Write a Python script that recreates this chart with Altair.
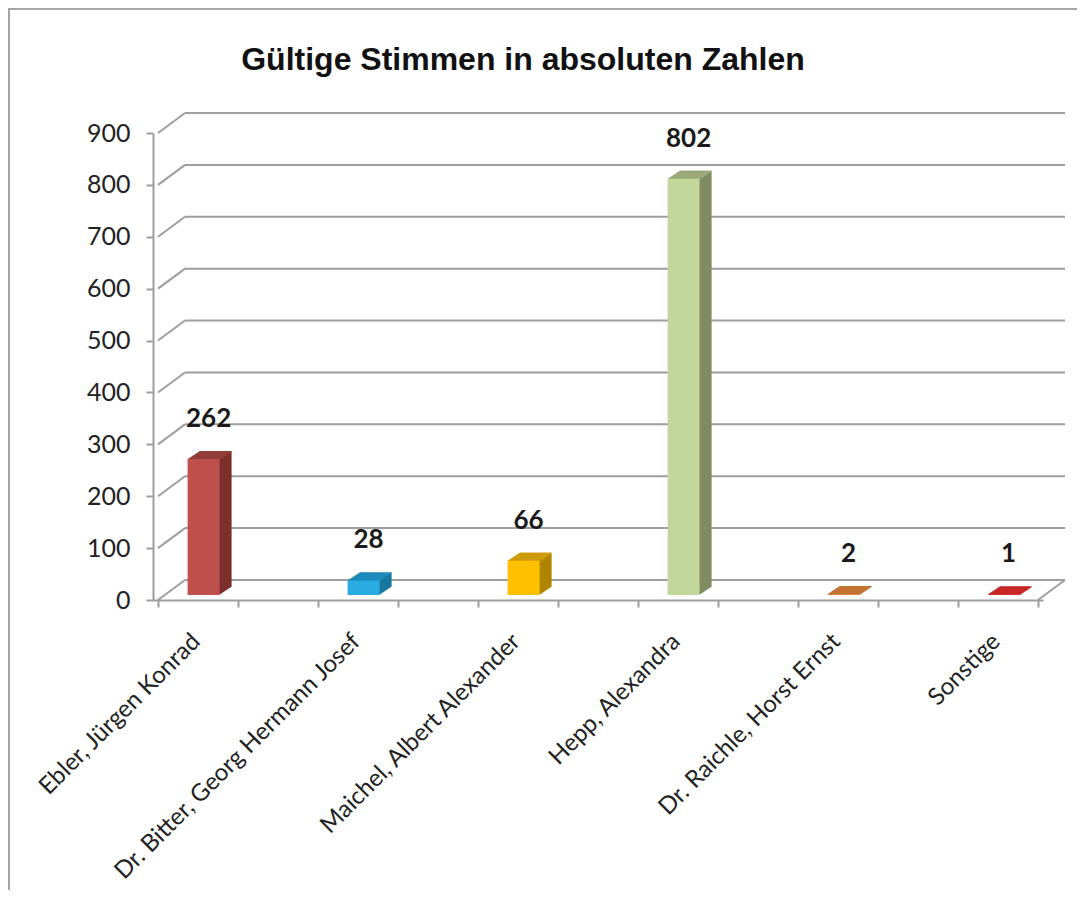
import altair as alt
import pandas as pd

# ---- data ----
names = [
    "Ebler, Jürgen Konrad",
    "Dr. Bitter, Georg Hermann Josef",
    "Maichel, Albert Alexander",
    "Hepp, Alexandra",
    "Dr. Raichle, Horst Ernst",
    "Sonstige",
]
votes = [262, 28, 66, 802, 2, 1]
y_ticks = [0, 100, 200, 300, 400, 500, 600, 700, 800, 900]
title_text = "Gültige Stimmen in absoluten Zahlen"

# ---- styles ----
FRONT = ["#C0504D", "#29ABE2", "#FFC000", "#C3D69B", "#D8843A", "#D42626"]
TOP = ["#953E3B", "#1E8CC0", "#D09C0A", "#9DAD7C", "#C47532", "#C8201F"]
SIDE = ["#7C2F2D", "#17789F", "#B08400", "#7E8B63", "#9E5C26", "#9A1719"]
GRAY = "#9E9E9E"
FONT = "Lato"

df = pd.DataFrame({"name": names, "votes": votes, "idx": list(range(len(names)))})
grid_df = pd.DataFrame({"v": y_ticks})
one = pd.DataFrame({"a": [0]})

xs = alt.Scale(domain=[0, 11], nice=False, zero=False)
ys = alt.Scale(domain=[0, 900], nice=False)
xa = alt.Axis(values=list(range(12)), labels=False, title=None, tickSize=7,
              tickWidth=2, tickColor=GRAY, domainColor=GRAY, domainWidth=2, grid=False)
ya = alt.Axis(values=y_ticks, title=None, tickSize=7, tickWidth=2, tickColor=GRAY,
              domainColor=GRAY, domainWidth=2, grid=False, labelFont=FONT,
              labelFontSize=25, labelColor="#222222", labelPadding=16)

X = alt.X("slot:Q", scale=xs, axis=xa)
Y = alt.Y("votes:Q", scale=ys, axis=ya)

base = alt.Chart(df).transform_calculate(slot="2*datum.idx + 0.57")

DX, DY = 27, -20      # depth of back wall
BW = 32               # bar width
BDX, BDY = 12, 8      # bar depth
N = 12
SY = BDY / N
AX = BDX / N
LIFT = -5

frame = alt.Chart(one).mark_rect(filled=False, stroke="#A6A6A6", strokeWidth=2).encode(
    x=alt.value(-144), x2=alt.value(1300), y=alt.value(-124), y2=alt.value(1100)
)

title = alt.Chart(one).mark_text(
    text=title_text, font="Liberation Sans", fontSize=32, fontWeight="bold",
    color="#111111", align="center", baseline="middle",
).encode(x=alt.value(370), y=alt.value(-73))

grid_back = alt.Chart(grid_df).mark_rule(
    color=GRAY, strokeWidth=2, xOffset=DX, x2Offset=DX, yOffset=DY
).encode(
    x=alt.XDatum(0, scale=xs, axis=xa), x2=alt.X2Datum(11),
    y=alt.Y("v:Q", scale=ys, axis=ya),
)

grid_side = alt.Chart(grid_df).mark_rule(
    color=GRAY, strokeWidth=2, x2Offset=DX, y2Offset=DY
).encode(
    x=alt.XDatum(0, scale=xs, axis=xa), x2=alt.X2Datum(0),
    y=alt.Y("v:Q", scale=ys, axis=ya), y2=alt.Y2("v:Q"),
)

floor_right = alt.Chart(one).mark_rule(
    color=GRAY, strokeWidth=2, x2Offset=DX, y2Offset=DY
).encode(
    x=alt.XDatum(11, scale=xs, axis=xa), x2=alt.X2Datum(11),
    y=alt.YDatum(0, scale=ys, axis=ya), y2=alt.Y2Datum(0),
)


def col(rng):
    return alt.Color("name:N", scale=alt.Scale(domain=names, range=rng), legend=None)


layers = [frame, title, grid_back, grid_side, floor_right]

# side (shifted copies of the bar body)
for k in range(1, N + 1):
    off = LIFT - k * SY
    layers.append(
        base.mark_bar(width=BW, xOffset=k * AX, yOffset=off, y2Offset=off, strokeWidth=0)
        .encode(x=X, y=Y, y2=alt.Y2Datum(0), color=col(SIDE))
    )

# top face (thin shifted strips at the bar top)
for k in range(1, N + 1):
    y_top = LIFT - k * SY
    y_bot = LIFT - (k - 1) * SY + 0.35
    layers.append(
        base.mark_bar(width=BW, xOffset=k * AX, yOffset=y_top, y2Offset=y_bot, strokeWidth=0)
        .encode(x=X, y=Y, y2=alt.Y2("votes:Q"), color=col(TOP))
    )

# front face
layers.append(
    base.mark_bar(width=BW, yOffset=LIFT, y2Offset=LIFT, strokeWidth=0)
    .encode(x=X, y=Y, y2=alt.Y2Datum(0), color=col(FRONT))
)

value_labels = base.mark_text(
    font=FONT, fontWeight="bold", fontSize=26, color="#1A1A1A",
    baseline="middle", xOffset=5, yOffset=-45,
).encode(x=X, y=Y, text="votes:Q")

cat_labels = base.mark_text(
    font=FONT, fontSize=24, color="#222222", angle=315, align="right",
    baseline="middle", xOffset=-7, yOffset=38,
).encode(x=X, y=alt.YDatum(0, scale=ys, axis=ya), text="name:N")

layers += [value_labels, cat_labels]

chart = (
    alt.layer(*layers)
    .resolve_scale(color="independent")
    .properties(
        width=890,
        height=467,
        padding={"left": 145, "top": 125, "right": 34, "bottom": 290},
        autosize=alt.AutoSizeParams(type="none"),
        background="white",
    )
    .configure_view(stroke=None)
)

chart.save("out.html", embed_options={"renderer": "svg", "actions": False})
